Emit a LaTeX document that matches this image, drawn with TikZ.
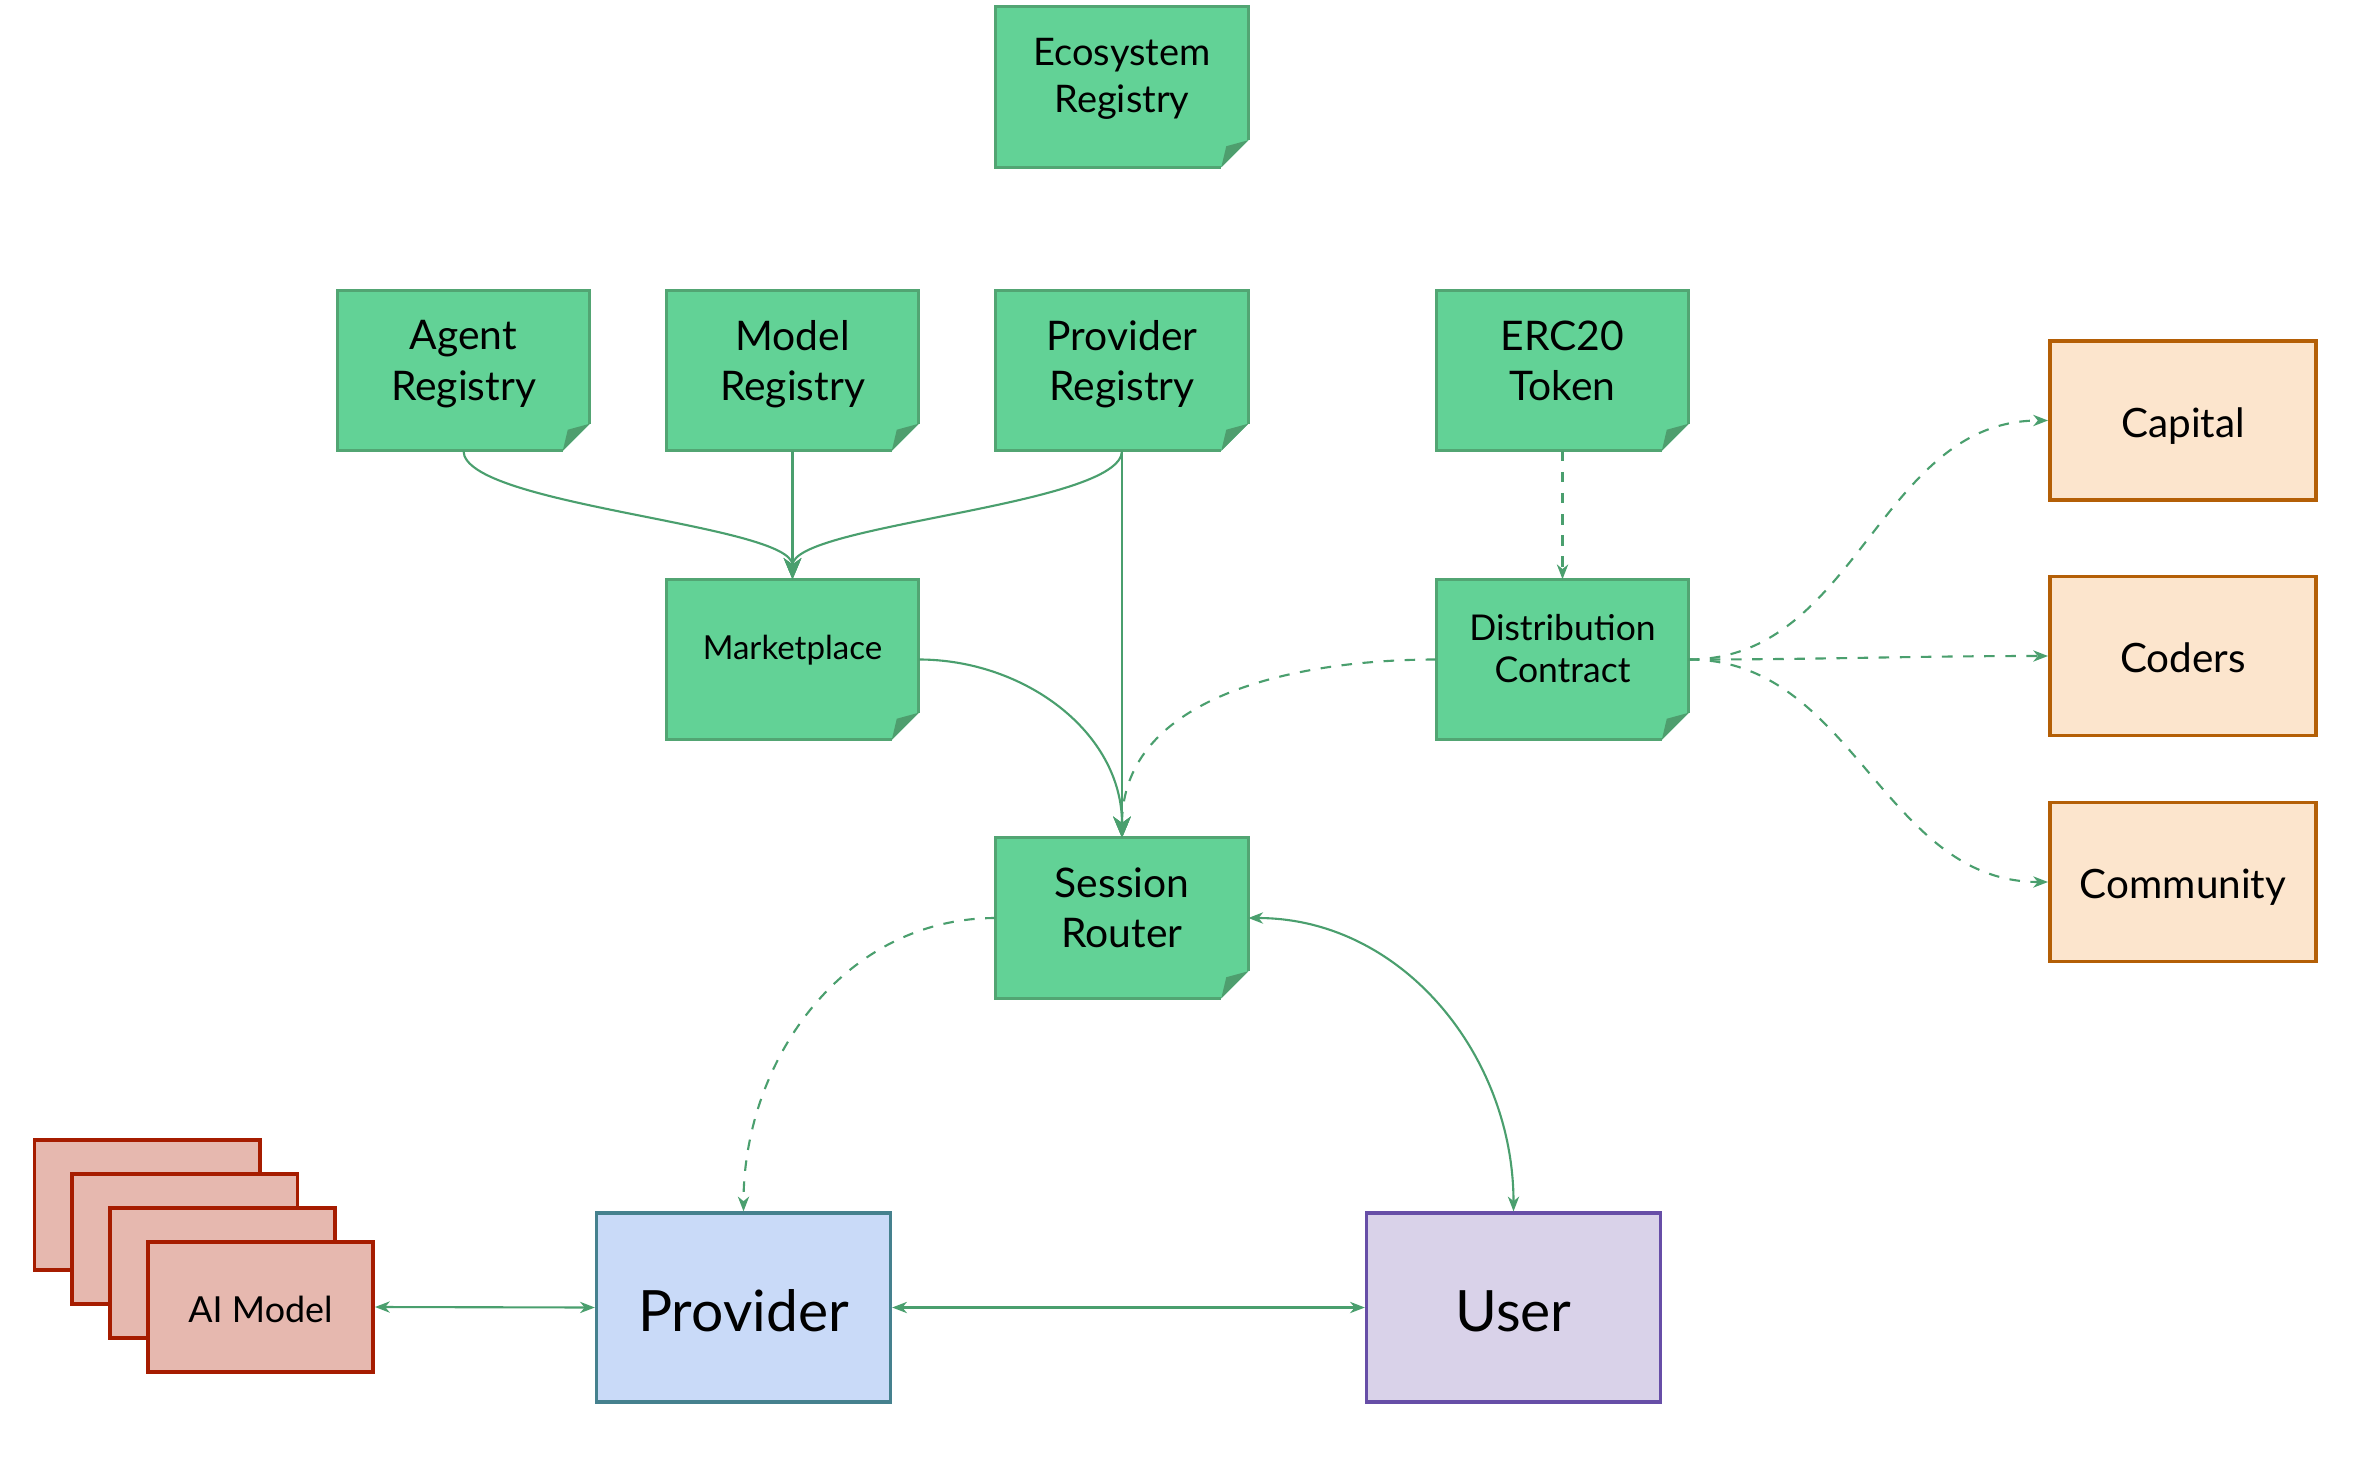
\documentclass[tikz,border=0pt]{standalone}
\usepackage{fontspec}
\setmainfont{Lato}
\usetikzlibrary{arrows.meta}
\definecolor{gfill}{HTML}{62D296}
\definecolor{gborder}{HTML}{52A573}
\definecolor{gfold}{HTML}{4E9E6E}
\definecolor{lk}{HTML}{4A9F6E}
\definecolor{ofill}{HTML}{FCE5CD}
\definecolor{oborder}{HTML}{B45F06}
\definecolor{aifill}{HTML}{E6B8AF}
\definecolor{aiborder}{HTML}{A61C00}
\definecolor{pfill}{HTML}{C9DAF8}
\definecolor{pborder}{HTML}{45818E}
\definecolor{ufill}{HTML}{D9D2E9}
\definecolor{uborder}{HTML}{674EA7}
\tikzset{
  note/.style={minimum width=2.51cm, minimum height=1.59cm, inner sep=0pt},
  notetext/.style={align=center, inner sep=0pt, font=\fontsize{11.6}{14.3}\selectfont},
  obox/.style={draw=oborder, fill=ofill, line width=1.1pt, minimum width=2.66cm, minimum height=1.59cm, inner sep=0pt, text height=9.5pt, text depth=0pt, font=\fontsize{11.5}{13}\selectfont},
  aibox/.style={draw=aiborder, fill=aifill, line width=1.1pt, minimum width=2.25cm, minimum height=1.3cm, inner sep=0pt},
  bigbox/.style={line width=0.9pt, minimum width=2.94cm, minimum height=1.89cm, inner sep=0pt, text height=13.5pt, text depth=0pt, font=\fontsize{16.2}{19}\selectfont},
  conn/.style={draw=lk, line width=0.6pt},
  dsh/.style={dash pattern=on 3pt off 3pt},
  bigtip/.style={-{Stealth[length=6pt,width=5pt,inset=1.8pt]}},
  tip/.style={-{Stealth[length=4.2pt,width=3.2pt,inset=1.3pt]}},
  tipboth/.style={{Stealth[length=4.2pt,width=3.2pt,inset=1.3pt]}-{Stealth[length=4.2pt,width=3.2pt,inset=1.3pt]}},
}
\begin{document}
\begin{tikzpicture}[x=0.01cm,y=0.01cm]
\useasboundingbox (0,0) rectangle (2370,-1464);
\fill[white] (0,0) rectangle (2370,-1464);

% green note frames
\node[note] (eco) at (1122,-87) {};
\node[note] (agent) at (463.5,-370.5) {};
\node[note] (model) at (792.5,-370.5) {};
\node[note] (preg) at (1122,-370.5) {};
\node[note] (erc) at (1562.5,-370.5) {};
\node[note] (market) at (792.5,-659.5) {};
\node[note] (dist) at (1562.5,-659.5) {};
\node[note] (session) at (1122,-918) {};

\foreach \n in {eco,agent,model,preg,erc,market,dist,session}{
  \fill[gfill] (\n.north west) -- (\n.north east) -- ([yshift=0.27cm]\n.south east)
     -- ([xshift=-0.27cm]\n.south east) -- (\n.south west) -- cycle;
  \draw[gborder, line width=0.85pt, line join=miter] ([yshift=0.27cm]\n.south east) -- (\n.north east)
     -- (\n.north west) -- (\n.south west) -- ([xshift=-0.27cm]\n.south east);
  \fill[gfold] ([yshift=0.27cm]\n.south east) -- ([xshift=-0.27cm]\n.south east)
     -- ([xshift=-0.22cm,yshift=0.21cm]\n.south east) -- cycle;
}

% note texts
\node[notetext, font=\fontsize{10.8}{13.4}\selectfont] (ecoT) at ([yshift=0.08cm]eco.center) {Ecosystem\\Registry};
\node[notetext] (agentT) at ([yshift=0.065cm]agent.center) {Agent\\Registry};
\node[notetext] (modelT) at ([yshift=0.065cm]model.center) {Model\\Registry};
\node[notetext] (pregT) at ([yshift=0.065cm]preg.center) {Provider\\Registry};
\node[notetext] (ercT) at ([yshift=0.095cm]erc.center) {ERC20\\Token};
\node[notetext, font=\fontsize{9.4}{11}\selectfont] (marketT) at ([yshift=0.095cm]market.center) {Marketplace};
\node[notetext, font=\fontsize{10.1}{12}\selectfont] (distT) at ([yshift=0.11cm]dist.center) {Distribution\\Contract};
\node[notetext] (sessionT) at ([yshift=0.1cm]session.center) {Session\\Router};

% orange boxes
\node[obox] (capital) at (2183,-420.5) {Capital};
\node[obox] (coders) at (2183,-656) {Coders};
\node[obox] (community) at (2183,-882) {Community};

% AI model stack
\node[aibox] (ai1) at (147.1,-1205) {};
\node[aibox] (ai2) at (184.9,-1239) {};
\node[aibox] (ai3) at (222.7,-1273) {};
\node[aibox, text height=8.7pt, text depth=0pt, font=\fontsize{10.2}{12}\selectfont] (ai4) at (260.5,-1307) {AI Model};

% provider and user
\node[bigbox, draw=pborder, fill=pfill] (provider) at (743.5,-1307.5) {Provider};
\node[bigbox, draw=uborder, fill=ufill] (user) at (1513.5,-1307.5) {User};

% connectors
\draw[conn, bigtip] (agent.south) to[out=-90,in=90,looseness=0.4] (market.north);
\draw[conn, bigtip] (model.south) -- (market.north);
\draw[conn, bigtip] (preg.south) to[out=-90,in=90,looseness=0.4] (market.north);
\draw[conn, bigtip] (preg.south) -- (session.north);
\draw[conn, bigtip] (market.east) to[out=0,in=90] (session.north);
\draw[conn, dsh, bigtip] (dist.west) to[out=180,in=90] (session.north);
\draw[conn, dsh, tip] (erc.south) -- (dist.north);
\draw[conn, dsh, tip] (dist.east) to[out=0,in=180] (capital.west);
\draw[conn, dsh, tip] (dist.east) to[out=0,in=180] (coders.west);
\draw[conn, dsh, tip] (dist.east) to[out=0,in=180] (community.west);
\draw[conn, dsh, tip] (session.west) to[out=180,in=90] (provider.north);
\draw[conn, tipboth] (session.east) to[out=0,in=90] (user.north);
\draw[conn, tipboth] (ai4.east) -- (provider.west);
\draw[conn, tipboth] (provider.east) -- (user.west);
\end{tikzpicture}
\end{document}
